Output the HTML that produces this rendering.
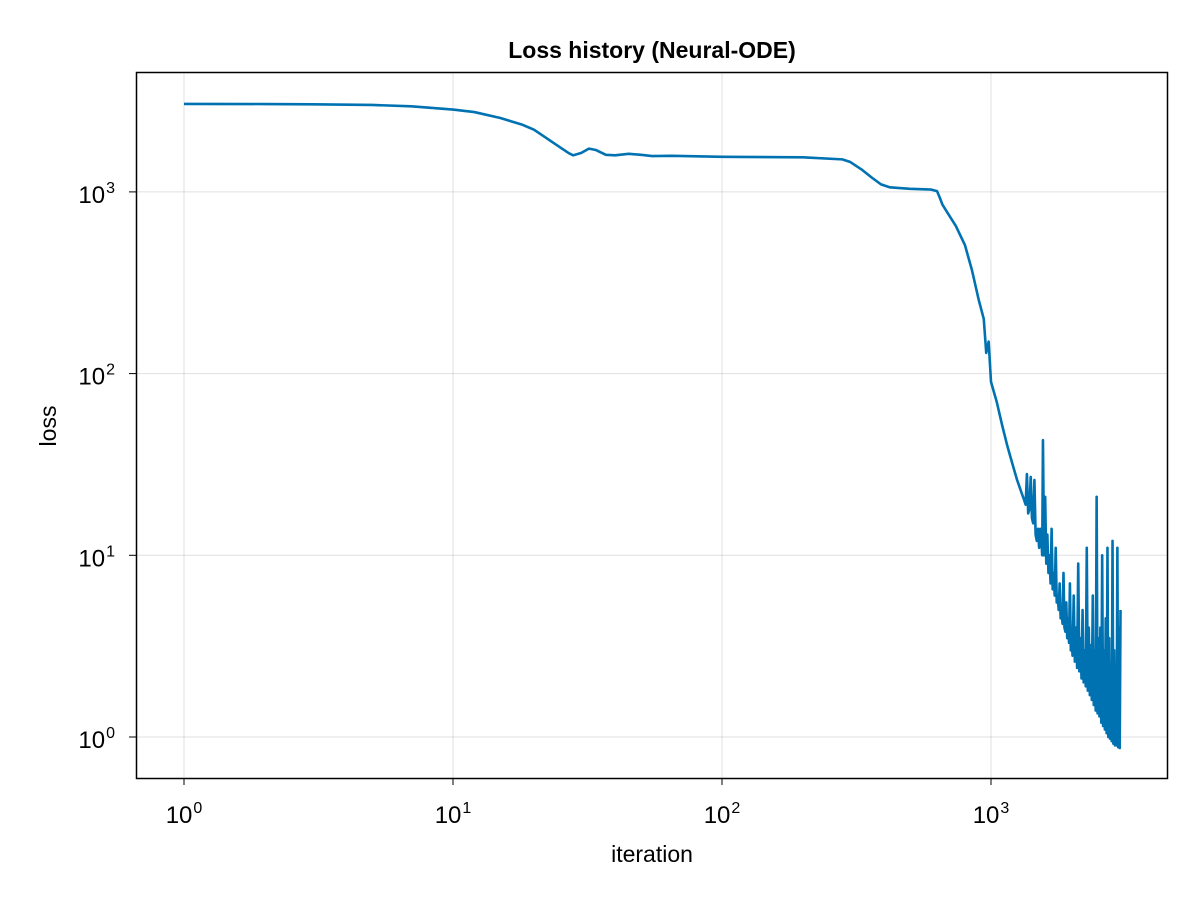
<!DOCTYPE html>
<html><head><meta charset="utf-8"><style>
html,body{margin:0;padding:0;background:#fff;}
svg{display:block;font-family:"Liberation Sans",sans-serif;}
</style></head><body>
<svg id="chart" width="1200" height="900" viewBox="0 0 1200 900">
<rect x="0" y="0" width="1200" height="900" fill="#fff"/>
<g id="grid"></g>
<g id="ticks"></g>
<path id="line" fill="none" stroke="#0072b2" stroke-width="2.6" stroke-linejoin="round"/>
<rect x="136.5" y="72.5" width="1031" height="706" fill="none" stroke="#000" stroke-width="1.5"/>
<text x="652" y="58" text-anchor="middle" font-size="23" font-weight="bold">Loss history (Neural-ODE)</text>
<text x="652" y="862" text-anchor="middle" font-size="23">iteration</text>
<text x="56" y="426" text-anchor="middle" font-size="23" transform="rotate(-90 56 426)">loss</text>
</svg>
<script>
const xTickExps = [0, 1, 2, 3];
const yTickExps = [0, 1, 2, 3];
const smoothIter = [1, 2, 3, 5, 7, 10, 12, 15, 18, 20, 22, 25, 27, 28, 30, 32, 34, 37, 40, 45, 50, 55, 65, 100, 200, 280, 300, 330, 360, 390, 420, 500, 600, 630, 645, 660, 700, 740, 800, 850, 900, 940, 960, 980, 1000, 1050, 1100, 1150, 1200, 1250, 1300];
const smoothLoss = [3050, 3045, 3035, 3010, 2960, 2840, 2750, 2550, 2350, 2200, 2000, 1760, 1630, 1590, 1640, 1730, 1700, 1600, 1590, 1620, 1600, 1575, 1580, 1560, 1550, 1510, 1460, 1330, 1200, 1100, 1060, 1040, 1030, 1010, 930, 850, 740, 650, 510, 370, 255, 200, 130, 150, 90, 70, 52, 40, 32, 26, 22];
const noiseIter = [1330,1345,1360,1375,1390,1405,1420,1435,1450,1465,1480,1495,1510,1525,1540,1550,1560,1575,1590,1605,1620,1635,1650,1665,1680,1695,1710,1725,1740,1755,1770,1785,1800,1815,1830,1845,1860,1875,1890,1905,1920,1935,1950,1965,1980,1995,2010,2030,2050,2070,2090,2110,2130,2150,2170,2190,2210,2230,2250,2270,2290,2310,2330,2350,2370,2390,2410,2430,2450,2470,2490,2510,2530,2550,2570,2590,2610,2630,2650,2670,2690,2710,2730,2750,2770,2790,2810,2830,2850,2870,2890,2910,2930,2950,2970,2990,3010,3030];
const noiseLoss = [20,19,28,17,18,27,16,15,26,13,12,14,11,14,12,10,43,10,21,9,13,8,10,7,14,6.5,8,6,11,5.5,6,5,7,4.5,5,4.2,8,4,3.8,5.5,3.5,4.5,3.3,7,3,3.5,2.8,6,2.6,4,2.4,9,2.3,3.5,2.1,5,2,3,1.9,11,1.8,4,1.7,3.2,1.6,6,1.5,3,1.4,21,1.35,3.5,1.3,4,1.2,10,1.15,3,1.1,4.5,1.05,11,1.0,3.5,0.98,2.5,0.95,12,0.92,3,0.9,2.5,0.9,11,0.88,4,0.87,5];
const X0 = 184, XD = 269, Y0 = 737, YD = 181.7;
function xs(v){ return X0 + Math.log10(v) * XD; }
function ys(v){ return Y0 - Math.log10(v) * YD; }
const NS = "http://www.w3.org/2000/svg";
const grid = document.getElementById('grid'), ticks = document.getElementById('ticks');
function mkLine(x1, y1, x2, y2, op){
  const l = document.createElementNS(NS, 'line');
  l.setAttribute('x1', x1); l.setAttribute('x2', x2); l.setAttribute('y1', y1); l.setAttribute('y2', y2);
  l.setAttribute('stroke', '#000'); l.setAttribute('stroke-opacity', op); l.setAttribute('stroke-width', '1');
  return l;
}
xTickExps.forEach(e => {
  const x = xs(Math.pow(10, e));
  const l = mkLine(x, 73, x, 778, '0.12');
  
  
  grid.appendChild(l);
  const tm = mkLine(x, 778, x, 785, '1');
  
  
  ticks.appendChild(tm);
  const t = document.createElementNS(NS, 'text');
  t.setAttribute('x', x); t.setAttribute('y', 823); t.setAttribute('text-anchor', 'middle'); t.setAttribute('font-size', '24');
  t.innerHTML = '10<tspan dx="1" dy="-10" font-size="16">' + e + '</tspan>';
  
  
  ticks.appendChild(t);
});
yTickExps.forEach(e => {
  const y = ys(Math.pow(10, e));
  const l = mkLine(137, y, 1167, y, '0.12');
  
  
  grid.appendChild(l);
  const tm = mkLine(129, y, 136, y, '1');
  
  
  ticks.appendChild(tm);
  const t = document.createElementNS(NS, 'text');
  t.setAttribute('x', 115); t.setAttribute('y', y + 11); t.setAttribute('text-anchor', 'end'); t.setAttribute('font-size', '24');
  t.innerHTML = '10<tspan dx="1" dy="-10" font-size="16">' + e + '</tspan>';
  
  
  ticks.appendChild(t);
});
let d = '';
smoothIter.forEach((it, i) => { d += (i ? 'L' : 'M') + xs(it).toFixed(2) + ' ' + ys(smoothLoss[i]).toFixed(2); });
noiseIter.forEach((it, i) => { d += 'L' + xs(it).toFixed(2) + ' ' + ys(noiseLoss[i]).toFixed(2); });
document.getElementById('line').setAttribute('d', d);
</script>
</body></html>
